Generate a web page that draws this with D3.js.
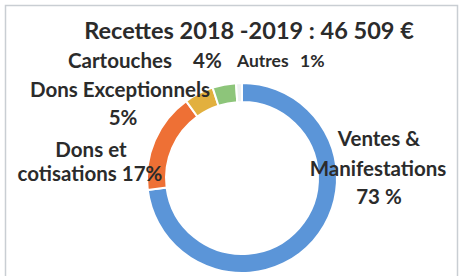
<!DOCTYPE html>
<html>
<head>
<meta charset="utf-8">
<script src="https://cdnjs.cloudflare.com/ajax/libs/d3/7.8.5/d3.min.js"></script>
<style>
  body { margin: 0; background: #fff; }
  text { font-family: Lato, "Open Sans", sans-serif; font-weight: bold; fill: #2b2b2b; }
</style>
</head>
<body>
<div id="chart"></div>
<script>
// chart data
var categories = ["Ventes & Manifestations", "Dons et cotisations", "Dons Exceptionnels", "Cartouches", "Autres"];
var percents = [73, 17, 5, 4, 1];
var colors = ["#5b95d8", "#ee7035", "#e2b03e", "#8dc57a", "#eef1f2"];
var title = "Recettes 2018 -2019 : 46 509 €";

// label texts, line by line
var labelTexts = ["Cartouches", "4%", "Autres", "1%", "Dons Exceptionnels", "5%",
  "Dons et", "cotisations 17%", "Ventes &", "Manifestations", "73 %"];

var svgWidth = 464;
var svgHeight = 276;

// where each label line goes: x, baseline y, font size, anchor
var labelPos = [
  [68, 68, 20.5, "start"],
  [193, 68, 20.5, "start"],
  [237, 67, 17.5, "start"],
  [300, 67, 17.5, "start"],
  [120, 97, 20.5, "middle"],
  [123, 125, 20.5, "middle"],
  [91, 157, 20.5, "middle"],
  [90, 181, 20.5, "middle"],
  [379, 146, 20.5, "middle"],
  [378, 176, 20.5, "middle"],
  [379, 204, 20.5, "middle"]
];

var svg = d3.select("#chart")
  .append("svg")
    .attr("width", svgWidth)
    .attr("height", svgHeight);

// frame of the chart area
svg.append("rect")
  .attr("x", 5.5)
  .attr("y", 5.5)
  .attr("width", 452)
  .attr("height", 290)
  .attr("fill", "#fff")
  .attr("stroke", "#c9ced3")
  .attr("stroke-width", 1.5);

var cx = 242, cy = 178;
var outerR = 95, innerR = 76;

var pie = d3.pie().sort(null).value(d => d);
var arc = d3.arc().innerRadius(innerR).outerRadius(outerR);

var donut = svg.append("g")
  .attr("transform", `translate(${cx}, ${cy})`);

donut.selectAll("path")
  .data(pie(percents))
  .enter()
  .append("path")
    .attr("d", arc)
    .attr("fill", (d, i) => colors[i])
    .attr("stroke", "#fff")
    .attr("stroke-width", 2);

svg.append("text")
  .attr("x", 249)
  .attr("y", 39)
  .attr("text-anchor", "middle")
  .attr("font-size", 23.5)
  .text(title);

svg.selectAll("text.lbl")
  .data(labelTexts)
  .enter()
  .append("text")
    .attr("class", "lbl")
    .attr("x", (d, i) => labelPos[i][0])
    .attr("y", (d, i) => labelPos[i][1])
    .attr("font-size", (d, i) => labelPos[i][2])
    .attr("text-anchor", (d, i) => labelPos[i][3])
    .text(d => d);
</script>
</body>
</html>
